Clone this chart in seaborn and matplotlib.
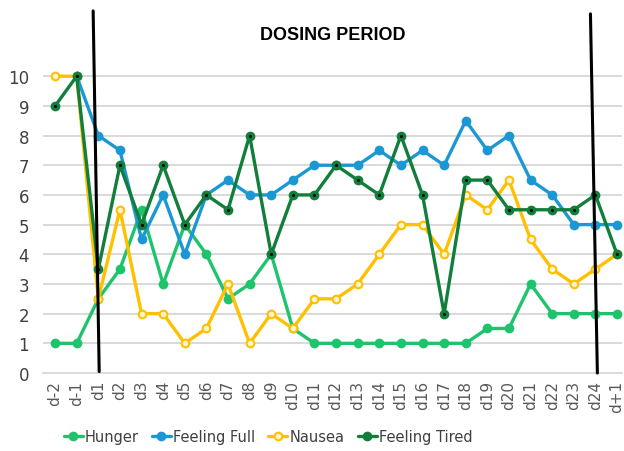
import matplotlib
matplotlib.use("Agg")
import matplotlib.pyplot as plt
import seaborn as sns
import numpy as np
import pandas as pd

days = ["d-2", "d-1"] + [f"d{i}" for i in range(1, 25)] + ["d+1"]
hunger = [1, 1, 2.5, 3.5, 5.5, 3, 5, 4, 2.5, 3, 4, 1.5, 1, 1, 1, 1, 1, 1, 1, 1,
          1.5, 1.5, 3, 2, 2, 2, 2]
feeling_full = [np.nan, 10, 8, 7.5, 4.5, 6, 4, 6, 6.5, 6, 6, 6.5, 7, 7, 7, 7.5, 7,
                7.5, 7, 8.5, 7.5, 8, 6.5, 6, 5, 5, 5]
nausea = [10, 10, 2.5, 5.5, 2, 2, 1, 1.5, 3, 1, 2, 1.5, 2.5, 2.5, 3, 4, 5, 5, 4, 6,
          5.5, 6.5, 4.5, 3.5, 3, 3.5, 4]
feeling_tired = [9, 10, 3.5, 7, 5, 7, 5, 6, 5.5, 8, 4, 6, 6, 7, 6.5, 6, 8, 6, 2,
                 6.5, 6.5, 5.5, 5.5, 5.5, 5.5, 6, 4]
series_names = ["Hunger", "Feeling Full", "Nausea", "Feeling Tired"]
title = "DOSING PERIOD"

sns.set_theme(style="white")
plt.rcParams['font.family'] = ['DejaVu Sans']

fig = plt.figure(figsize=(6.24, 4.52), dpi=100)
ax = fig.add_axes([43/624, 1-374/452, (622-43)/624, (374-3)/452])

x = np.arange(len(days))
df = pd.DataFrame({"x": x, "Hunger": hunger, "Feeling Full": feeling_full,
                   "Nausea": nausea, "Feeling Tired": feeling_tired})

colors = {"Hunger": "#1DC46C", "Feeling Full": "#1B98D3",
          "Nausea": "#FFC000", "Feeling Tired": "#117F3B"}
faces = {"Hunger": "#1DC46C", "Feeling Full": "#1B98D3",
         "Nausea": "#FFF4D0", "Feeling Tired": "#117F3B"}

for name in series_names:
    sub = df[["x", name]].dropna()
    sns.lineplot(data=sub, x="x", y=name, ax=ax, color=colors[name], lw=2.4,
                 marker="o", markersize=5.5, markerfacecolor=faces[name],
                 markeredgecolor=colors[name], markeredgewidth=1.5,
                 label=name, zorder=3)
# small black center dots on Feeling Tired markers
ax.plot(df["x"], df["Feeling Tired"], ls="none", marker="o", markersize=1.2,
        color="black", zorder=4)

ax.set_xlim(-0.56, 26.23)
ax.set_ylim(0, 12.5)
ax.set_yticks(range(0, 11))
ax.set_xticks(x)
ax.set_xticklabels(days, rotation=90, color="#595959", fontsize=11)
ax.tick_params(axis="y", labelcolor="#404040", labelsize=12, length=0, pad=10)
ax.tick_params(axis="x", length=0, pad=5)
ax.set_xlabel("")
ax.set_ylabel("")
for yv in range(1, 11):
    ax.axhline(yv, color="#CFCFCF", lw=1.1, zorder=1)
for s in ["top", "right", "left"]:
    ax.spines[s].set_visible(False)
ax.spines["bottom"].set_color("#CFCFCF")
ax.spines["bottom"].set_linewidth(1.1)

# dosing period boundary lines
ax.plot([1.76, 2.04], [12.2, 0.05], color="black", lw=2.2, zorder=5, clip_on=False)
ax.plot([24.77, 25.09], [12.1, 0.0], color="black", lw=2.2, zorder=5, clip_on=False)

fig.text(333/624, 1-35/452, title, ha="center", va="center",
         fontsize=13, fontweight="bold", family="Liberation Sans", color="black")

ax.get_legend().remove()
h, l = ax.get_legend_handles_labels()
fig.legend(h, l, loc="center", bbox_to_anchor=(268/624, 1-438/452), ncol=4,
           frameon=False, fontsize=10.5, handlelength=1.3, handletextpad=0.15,
           columnspacing=0.9, labelcolor="#404040")

fig.savefig("out.png", dpi=100)
